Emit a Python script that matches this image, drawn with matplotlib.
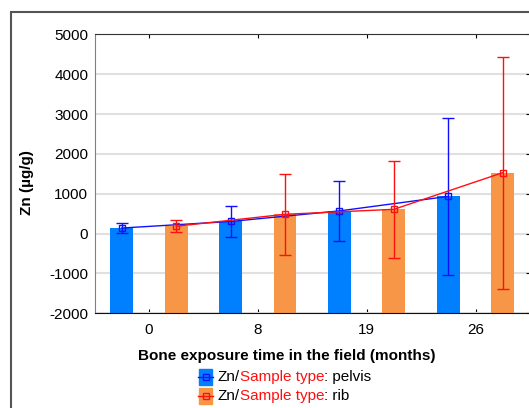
import numpy as np
import matplotlib
matplotlib.use("Agg")
import matplotlib.pyplot as plt
from matplotlib.patches import Rectangle
from matplotlib.lines import Line2D

plt.rcParams['font.family'] = ['Liberation Sans', 'DejaVu Sans']
plt.rcParams['axes.unicode_minus'] = False

months = ['0', '8', '19', '26']
pelvis_mean = [140, 305, 570, 935]
pelvis_err = [120, 400, 760, 1975]
rib_mean = [185, 485, 610, 1530]
rib_err = [145, 1015, 1215, 2910]

W, H = 529, 408
fig = plt.figure(figsize=(W / 100, H / 100), dpi=100)

def fx(px):
  return px / W

def fy(py):
  return 1 - py / H

ax = fig.add_axes([fx(94.5), fy(313.3), fx(530) - fx(94.5), fy(34.4) - fy(313.3)])

ymin, ymax = -2000, 5000
x = np.arange(len(months))
off, bw = 0.25, 0.21
# bars rise from the bottom of the axis, not from zero
ax.bar(x - off, np.array(pelvis_mean) - ymin, bottom=ymin, width=bw, color='#0080ff', zorder=2)
ax.bar(x + off, np.array(rib_mean) - ymin, bottom=ymin, width=bw, color='#f79646', zorder=2)

ax.errorbar(x - off, pelvis_mean, yerr=pelvis_err, color='#1010ff', lw=1, capsize=4,
            marker='s', ms=4, mfc='none', mec='#1010ff', mew=1, zorder=4)
ax.errorbar(x + off, rib_mean, yerr=rib_err, color='#ff1010', lw=1, capsize=4,
            marker='s', ms=4, mfc='none', mec='#ff1010', mew=1, zorder=5)

ax.set_xlim(-0.5, 3.5)
ax.set_ylim(ymin, ymax)
ax.set_xticks(x)
ax.set_xticklabels(months)
ax.set_yticks(np.arange(ymin, ymax + 1, 1000))
ax.yaxis.grid(True, color='#e0e0e0', lw=1.5, zorder=0)
ax.set_axisbelow(True)
ax.tick_params(axis='x', direction='in', length=3, top=True, pad=7, labelsize=11)
ax.tick_params(axis='y', direction='in', length=3, left=False, right=True, pad=4.5, labelsize=11)
ax.spines['left'].set_color('#808080')
ax.spines['bottom'].set_color('#111111')
ax.spines['top'].set_color('#333333')

fig.text(fx(27), fy(183), 'Zn (µg/g)', rotation=90, ha='center', va='center',
         fontsize=11, fontweight='bold')
fig.text(fx(286.5), fy(356), 'Bone exposure time in the field (months)', ha='center',
         va='center', fontsize=11, fontweight='bold')

# legend drawn by hand, so that "Sample type" can be red
rows = [('pelvis', '#0080ff', '#1010ff', 376.7), ('rib', '#f79646', '#ff1010', 395.7)]
for name, fc, lc, yc in rows:
  fig.add_artist(Rectangle((fx(199), fy(yc + 8)), fx(13), fy(yc - 8) - fy(yc + 8),
                           transform=fig.transFigure, color=fc))
  fig.add_artist(Line2D([fx(198), fx(205.5), fx(213)], [fy(yc)] * 3, transform=fig.transFigure,
                        color=lc, lw=1, marker='s', ms=4, mfc='none', mec=lc,
                        markevery=[1]))
  t1 = fig.text(fx(217.5), fy(yc), 'Zn/', va='center', fontsize=11)
  t2 = ax.annotate('Sample type', xy=(1, 0), xycoords=t1, va='bottom', ha='left',
                   color='#ff1010', fontsize=11, annotation_clip=False)
  ax.annotate(': ' + name, xy=(1, 0), xycoords=t2, va='bottom', ha='left',
              fontsize=11, annotation_clip=False)

fig.add_artist(Rectangle((fx(11), -0.1), 1.2, fy(12) + 0.1, transform=fig.transFigure,
                         fill=False, ec='#555555', lw=1.5))

fig.savefig('out.png', dpi=100)
